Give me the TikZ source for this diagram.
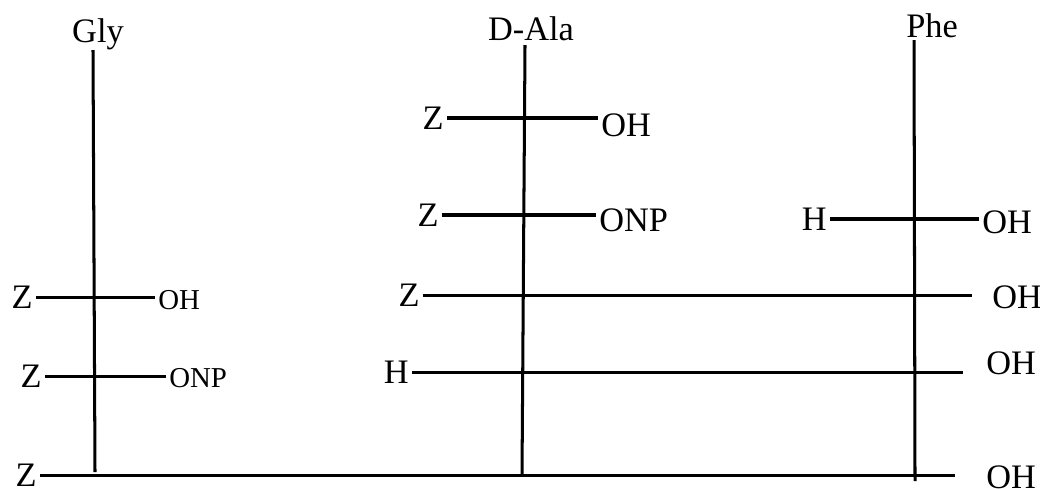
\documentclass[tikz,border=0pt]{standalone}
\usepackage{fontspec}
\setmainfont{Liberation Serif}
\usetikzlibrary{calc}

\begin{document}
\begin{tikzpicture}[x=0.364pt,y=-0.364pt,
    bond/.style={line width=1.1pt},
    lbl/.style={inner sep=1pt,font=\fontsize{12.5}{14}\selectfont},
    lblsmall/.style={inner sep=1pt,font=\fontsize{10.5}{12}\selectfont}]
    \useasboundingbox (0,0) rectangle (1040,488);
    % residue names
    \node[lbl,anchor=base] (gly) at (98,42) {Gly};
    \node[lbl,anchor=base] (ala) at (531,40) {D-Ala};
    \node[lbl,anchor=base] (phe) at (932,37) {Phe};
    % backbones
    \coordinate (glyT) at (93,50);
    \coordinate (glyB) at (95,472);
    \coordinate (alaT) at (525,45);
    \coordinate (alaB) at (522,475);
    \coordinate (pheT) at (914,40);
    \coordinate (pheB) at (915,481);
    \draw[bond] (glyT) -- (glyB);
    \draw[bond] (alaT) -- (alaB);
    \draw[bond] (pheT) -- (pheB);
    % Gly
    \node[lbl,anchor=east] (zg1) at (36,297) {Z};
    \node[lblsmall,anchor=west] (ohg1) at (155,300) {OH};
    \draw[bond] (zg1.east) -- (zg1.east -| ohg1.west);
    \node[lbl,anchor=east] (zg2) at (45,376) {Z};
    \node[lblsmall,anchor=west] (onpg2) at (166,378) {ONP};
    \draw[bond] (zg2.east) -- (zg2.east -| onpg2.west);
    % D-Ala
    \node[lbl,anchor=east] (za1) at (447,118) {Z};
    \node[lbl,anchor=west] (oha1) at (598,125) {OH};
    \draw[bond] (za1.east) -- (za1.east -| oha1.west);
    \node[lbl,anchor=east] (za2) at (442,215) {Z};
    \node[lbl,anchor=west] (onpa2) at (596,220) {ONP};
    \draw[bond] (za2.east) -- (za2.east -| onpa2.west);
    % Phe
    \node[lbl,anchor=east] (hp1) at (830,219) {H};
    \node[lbl,anchor=west] (ohp1) at (979,222) {OH};
    \draw[bond] (hp1.east) -- (hp1.east -| ohp1.west);
    % D-Ala -- Phe
    \node[lbl,anchor=east] (za3) at (423,295) {Z};
    \node[lbl,anchor=west] (oha3) at (989,297) {OH};
    \draw[bond] (za3.east) -- ($(za3.east -| oha3.west)+(-17,0)$);
    \node[lbl,anchor=east] (ha4) at (412,372) {H};
    \node[lbl,anchor=west] (oha4) at (983,363) {OH};
    \draw[bond] (ha4.east) -- ($(ha4.east -| oha4.west)+(-20,0)$);
    % Gly -- D-Ala -- Phe
    \node[lbl,anchor=east] (zb) at (40,475) {Z};
    \node[lbl,anchor=west] (ohb) at (983,477) {OH};
    \draw[bond] (zb.east) -- ($(zb.east -| ohb.west)+(-28,0)$);
\end{tikzpicture}
\end{document}
